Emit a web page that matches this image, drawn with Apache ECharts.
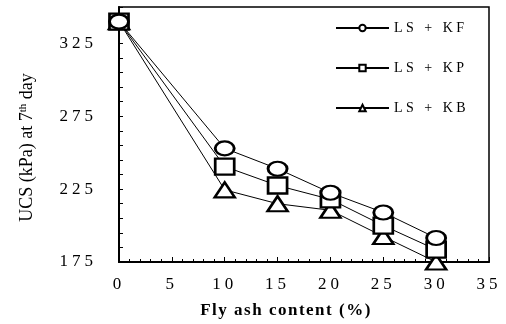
<!DOCTYPE html>
<html>
<head>
<meta charset="utf-8">
<script src="https://cdn.jsdelivr.net/npm/echarts@6/dist/echarts.min.js"></script>
<style>
html,body{margin:0;padding:0;background:#fff}
#c{width:506px;height:324px}
</style>
</head>
<body>
<div id="c"></div>
<script>
const xValues = [0, 10, 15, 20, 25, 30];
const seriesNames = ['LS + KF', 'LS + KP', 'LS + KB'];
const kf = [340, 253, 239, 222.5, 209, 191.5];
const kp = [340, 240.5, 227.5, 218, 200, 183.5];
const kb = [340, 224.5, 215, 210.5, 192.5, 175];
const yLabels = [175, 225, 275, 325];

// wide letter spacing of the original's text (drawn text stays real text)
const spacingRules = [[/^\d+$/, '4px'], [/^LS/, '3.5px'], [/^Fly/, '1.5px']];
const origFillText = CanvasRenderingContext2D.prototype.fillText;
CanvasRenderingContext2D.prototype.fillText = function (text, x, y, maxW) {
  let sp = '0px';
  for (const [re, v] of spacingRules) { if (re.test(String(text))) { sp = v; break; } }
  if ('letterSpacing' in this) this.letterSpacing = sp;
  return maxW === undefined ? origFillText.call(this, text, x, y) : origFillText.call(this, text, x, y, maxW);
};

const FONT = 'Liberation Serif';
const chart = echarts.init(document.getElementById('c'), null, {renderer: 'canvas'});
const ellipse = 'path://M0 7A9 7 0 1 0 18 7A9 7 0 1 0 0 7Z';
const symbols = [ellipse, 'rect', 'triangle'];
const sizes = [[19, 14], [19, 16], [20, 15]];
const dataSets = [kf, kp, kb];

chart.setOption({
  animation: false,
  backgroundColor: '#fff',
  grid: {left: 119, right: 17, top: 7, bottom: 61, show: true, borderColor: '#000', borderWidth: 1.5, containLabel: false},
  legend: {
    orient: 'vertical', left: 335, top: 21, padding: 0, itemWidth: 53, itemHeight: 8, itemGap: 26,
    textStyle: {fontFamily: FONT, fontSize: 14, color: '#000'},
    data: seriesNames
  },
  xAxis: {
    type: 'value', min: 0, max: 35, interval: 5,
    name: 'Fly ash content (%)', nameLocation: 'middle', nameGap: 40,
    nameTextStyle: {fontFamily: FONT, fontSize: 17, fontWeight: 'bold', color: '#000', padding: [0, 36, 0, 0]},
    axisLine: {show: true, onZero: false, lineStyle: {color: '#000', width: 2}},
    axisTick: {show: true, inside: true, length: 5, lineStyle: {color: '#000', width: 1}},
    minorTick: {show: true, splitNumber: 5, length: 3, lineStyle: {color: '#000', width: 1}},
    axisLabel: {fontFamily: FONT, fontSize: 17, color: '#000', margin: 14},
    splitLine: {show: false}
  },
  yAxis: [{
    type: 'value', min: 175, max: 350, interval: 25,
    name: '{a|UCS (kPa) at 7}{s|th}{a| day}', nameLocation: 'middle', nameGap: 83, nameRotate: 90,
    nameTextStyle: {padding: [0, 26, 0, 0], rich: {
      a: {fontFamily: FONT, fontSize: 18, color: '#000'},
      s: {fontFamily: FONT, fontSize: 11, color: '#000', verticalAlign: 'top', padding: [0, 0, 7, 0]}
    }},
    axisLine: {show: true, onZero: false, lineStyle: {color: '#000', width: 2}},
    axisTick: {show: false},
    axisLabel: {fontFamily: FONT, fontSize: 17, color: '#000', margin: 22,
      formatter: v => (yLabels.indexOf(v) >= 0 ? String(v) : '')},
    splitLine: {show: false}
  }, {
    type: 'value', min: 0, max: 175, interval: 10, position: 'left',
    axisLine: {show: false},
    axisTick: {show: true, inside: true, length: 4, lineStyle: {color: '#000', width: 1}},
    axisLabel: {show: false},
    splitLine: {show: false}
  }],
  series: seriesNames.map((n, i) => ({
    name: n, type: 'line', yAxisIndex: 0,
    data: xValues.map((x, j) => [x, dataSets[i][j]]),
    symbol: symbols[i], symbolSize: sizes[i],
    lineStyle: {color: '#000', width: 1},
    itemStyle: {color: '#fff', borderColor: '#000', borderWidth: 2.5},
    z: 3 - i
  }))
});
</script>
</body>
</html>
